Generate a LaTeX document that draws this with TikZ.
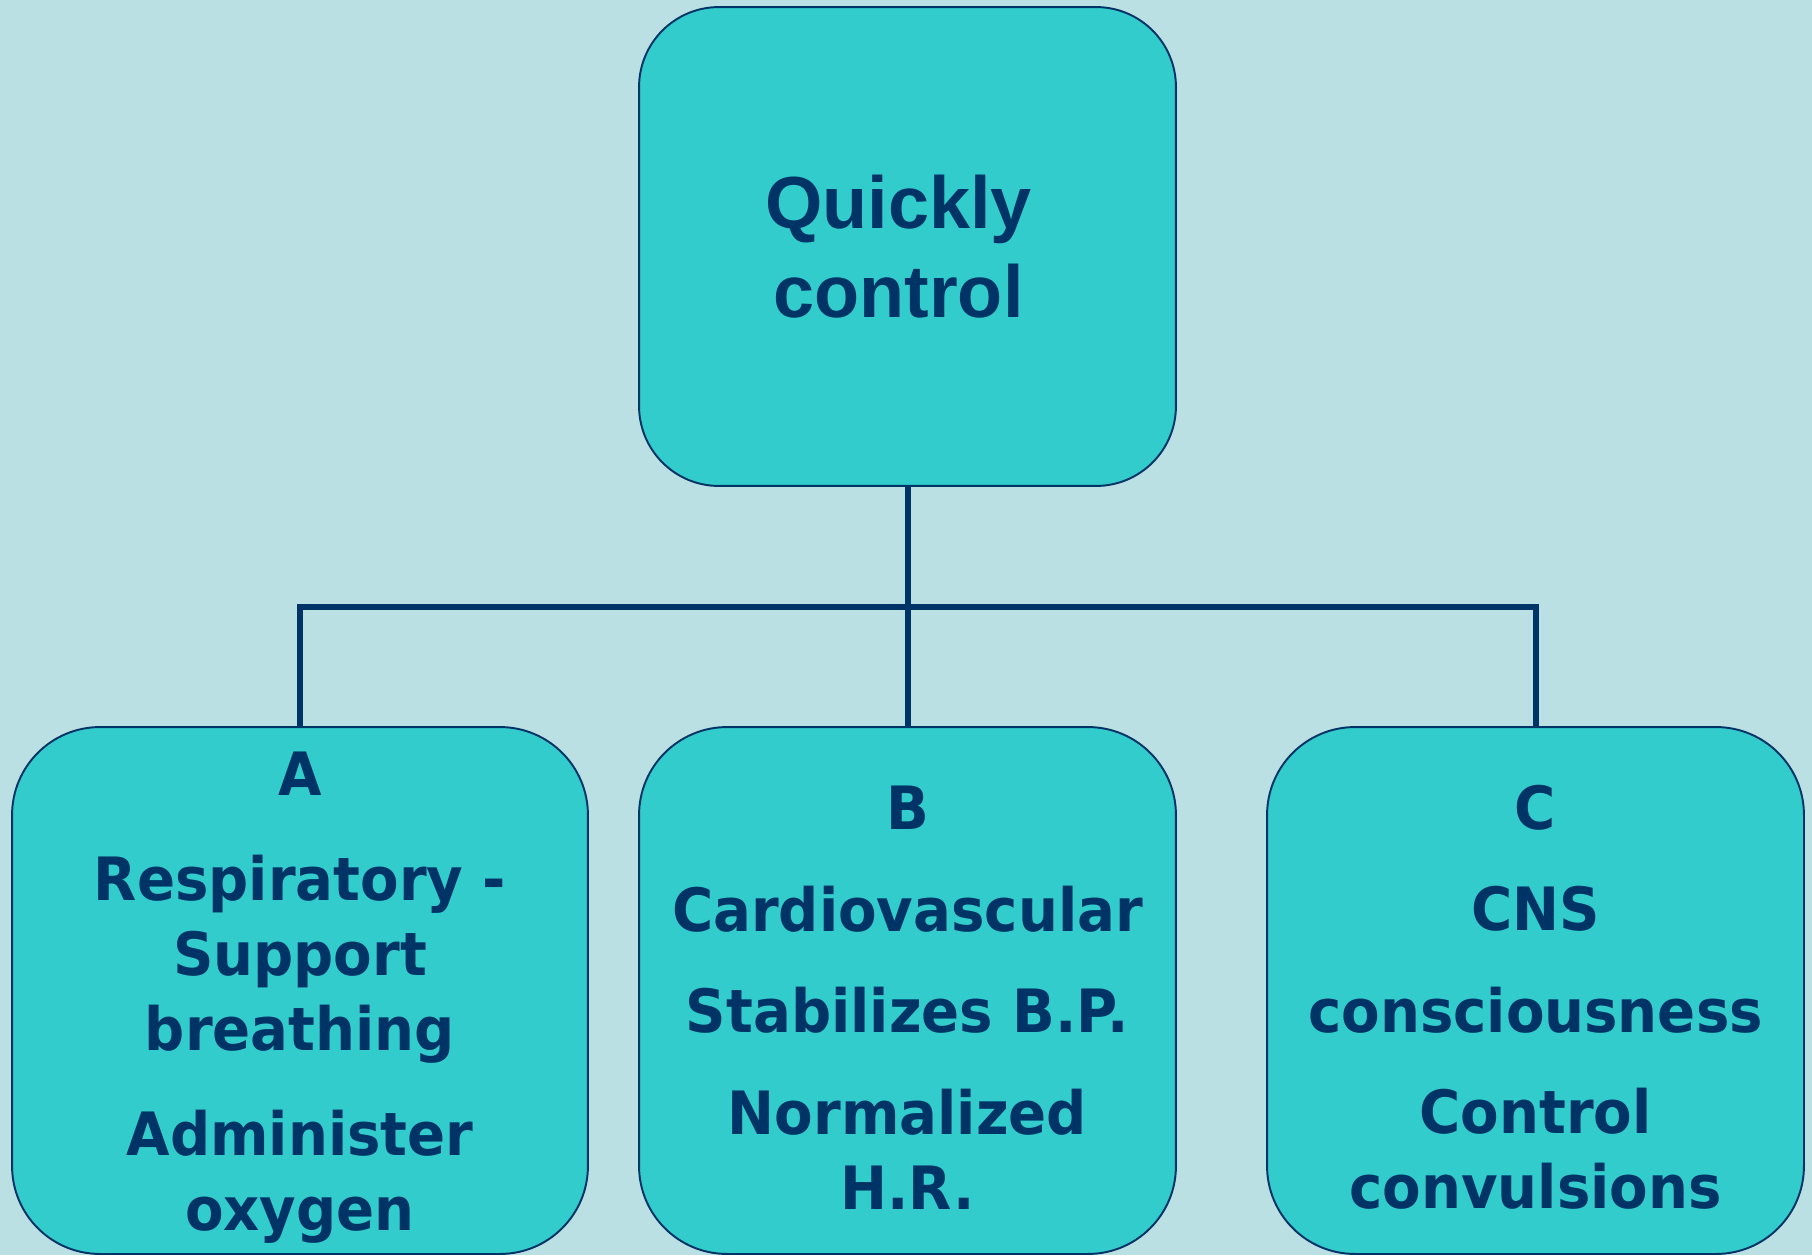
\documentclass[tikz,border=0pt]{standalone}
\usepackage{fontspec}
\setmainfont{Liberation Sans}
\newfontfamily\boxfont[FakeStretch=0.94]{DejaVu Sans}
\usetikzlibrary{calc}
\definecolor{oceanbg}{HTML}{BBE0E3}
\definecolor{tealfill}{HTML}{33CCCC}
\definecolor{navy}{HTML}{003366}

\begin{document}
\begin{tikzpicture}[x=0.02cm,y=-0.02cm,
  topbox/.style={draw=navy,line width=1.1pt,fill=tealfill,rounded corners=1.6cm,minimum width=10.74cm,minimum height=9.58cm,inner sep=0pt,align=center,text=navy,font=\fontsize{42}{51}\selectfont\bfseries},
  subbox/.style={draw=navy,line width=1.1pt,fill=tealfill,rounded corners=1.76cm,minimum width=10.74cm,minimum height=10.54cm,inner sep=0pt,align=center,text=navy,font=\boxfont\fontsize{34}{42.7}\selectfont\bfseries},
  link/.style={draw=navy,line width=0.12cm}]
\fill[oceanbg] (0,0) rectangle (1812,1255);
\useasboundingbox (0,0) rectangle (1812,1255);
\node[topbox] (quick) at (907.5,246.5) {Quickly\hspace*{0.36cm}\\control\hspace*{0.36cm}};
\node[subbox,minimum width=11.52cm] (resp) at (300,990.5) {\rule{0pt}{33pt}A\\[17pt]Respiratory -\\Support\\breathing\\[17pt]Administer\\oxygen};
\node[subbox] (cardio) at (907.5,990.5) {\rule{0pt}{33pt}B\\[15pt]Cardiovascular\\[15pt]Stabilizes B.P.\\[15pt]Normalized\\H.R.};
\node[subbox] (cns) at (1535.5,990.5) {\rule{0pt}{33pt}C\\[15pt]CNS\\[15pt]consciousness\\[15pt]Control\\convulsions};
\coordinate (split) at (907.5,607);
\draw[link] (quick.south) -- (split);
\draw[link] (split) -| (resp.north);
\draw[link] (split) -| (cns.north);
\draw[link] (split) -- (cardio.north);
\end{tikzpicture}
\end{document}
